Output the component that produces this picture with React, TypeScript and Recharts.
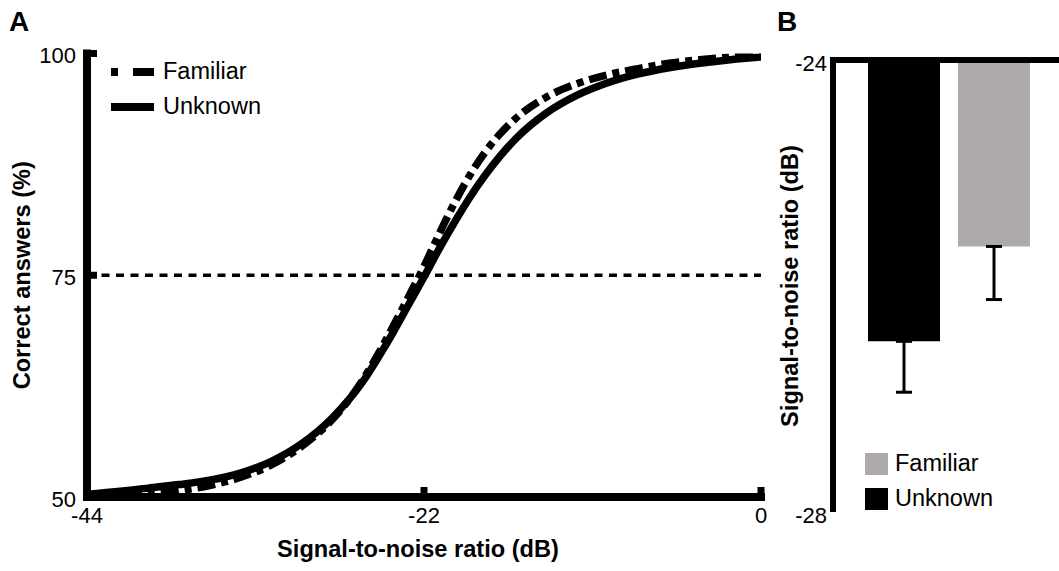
import React from 'react';
import {
  LineChart,
  Line,
  XAxis,
  YAxis,
  ReferenceLine,
  Legend,
  BarChart,
  Bar,
  ErrorBar
} from 'recharts';

// panel A: psychometric curves
const snrLevels = [-44, -40, -38, -36, -34, -32, -30, -28, -26, -25, -24, -23, -22, -21, -20, -19, -18, -17, -16, -14, -12, -10, -8, -6, -4, -2, 0];
const familiarCorrect = [50.0, 50.3, 50.7, 51.3, 52.2, 53.6, 55.7, 58.7, 63.2, 66.1, 69.3, 72.6, 76.0, 79.7, 83.2, 86.3, 88.9, 91.0, 92.7, 95.1, 96.6, 97.6, 98.3, 98.9, 99.3, 99.6, 99.85];
const unknownCorrect = [50.3, 51.0, 51.4, 51.9, 52.7, 54.0, 56.0, 58.9, 63.0, 65.7, 68.6, 71.7, 74.8, 78.0, 81.0, 83.8, 86.3, 88.5, 90.4, 93.3, 95.3, 96.7, 97.7, 98.4, 98.9, 99.3, 99.6];
const snrTicks = [-44, -22, 0];
const correctTicks = [50, 75, 100];
const thresholdLevel = 75;

// panel B: thresholds
const barGroups = ['Threshold'];
const unknownThreshold = [-26.49];
const familiarThreshold = [-25.65];
const unknownSem = [0.45];
const familiarSem = [0.47];
const thresholdTicks = [-28, -24];

const FONT = '"Liberation Sans", Arial, Helvetica, sans-serif';
const GREY = '#aeaaaa';

const curveData = snrLevels.map((snr, i) => ({
  snr,
  familiar: familiarCorrect[i],
  unknown: unknownCorrect[i]
}));

const barData = barGroups.map((group, i) => ({
  group,
  unknown: unknownThreshold[i],
  familiar: familiarThreshold[i],
  unknownErr: [unknownSem[i], 0],
  familiarErr: [familiarSem[i], 0]
}));

const legendOrder = ['Familiar', 'Unknown'];
const legendDash: Record<string, string | undefined> = { Familiar: '7 15 21', Unknown: undefined };

const sortItems = (payload: any[] = []) =>
  [...payload].sort((a, b) => legendOrder.indexOf(a.value) - legendOrder.indexOf(b.value));

function LineLegend({ payload }: any) {
  return (
    <div>
      {sortItems(payload).map((item: any) => (
        <div key={item.value} style={{ display: 'flex', alignItems: 'center', height: 35 }}>
          <svg width={43} height={10} style={{ display: 'block' }}>
            <line x1={0} y1={5} x2={43} y2={5} stroke="#000" strokeWidth={8} strokeDasharray={legendDash[item.value]} />
          </svg>
          <span style={{ marginLeft: 9, fontSize: 23.5, color: '#000', lineHeight: 1 }}>{item.value}</span>
        </div>
      ))}
    </div>
  );
}

function BarLegend({ payload }: any) {
  return (
    <div>
      {sortItems(payload).map((item: any) => (
        <div key={item.value} style={{ display: 'flex', alignItems: 'center', height: 35 }}>
          <svg width={23} height={22} style={{ display: 'block' }}>
            <rect x={0} y={0} width={23} height={22} fill={item.color} />
          </svg>
          <span style={{ marginLeft: 7, fontSize: 23.5, color: '#000', lineHeight: 1 }}>{item.value}</span>
        </div>
      ))}
    </div>
  );
}

function CurvePanel() {
  return (
    <LineChart width={800} height={571} data={curveData} margin={{ top: 53.5, right: 39, bottom: 44, left: 0 }}>
      <XAxis
        type="number"
        dataKey="snr"
        domain={[-44, 0]}
        ticks={snrTicks}
        interval={0}
        allowDataOverflow
        height={30}
        axisLine={{ stroke: '#000', strokeWidth: 8, strokeLinecap: 'square' }}
        tickLine={{ stroke: '#000', strokeWidth: 7 }}
        tickSize={-10}
        tickMargin={20}
        tick={{ fill: '#000', fontSize: 22 }}
        label={{ value: 'Signal-to-noise ratio (dB)', position: 'bottom', offset: 13, dx: -6, fill: '#000', fontSize: 23.6, fontWeight: 700 }}
      />
      <YAxis
        type="number"
        domain={[50, 100]}
        ticks={correctTicks}
        interval={0}
        allowDataOverflow
        width={87}
        axisLine={{ stroke: '#000', strokeWidth: 8, strokeLinecap: 'square' }}
        tickLine={{ stroke: '#000', strokeWidth: 7 }}
        tickSize={-10}
        tickMargin={21}
        tick={{ fill: '#000', fontSize: 22, dy: 2 }}
        label={{ value: 'Correct answers (%)', angle: -90, position: 'insideLeft', offset: 22, fill: '#000', fontSize: 23.6, fontWeight: 700, style: { textAnchor: 'middle' } }}
      />
      <ReferenceLine y={thresholdLevel} stroke="#000" strokeWidth={3.5} strokeDasharray="8 6.5" />
      <Legend
        layout="vertical"
        align="center"
        verticalAlign="middle"
        content={<LineLegend />}
        wrapperStyle={{ left: 111, top: 54, width: 'auto' }}
      />
      <Line
        type="monotone"
        dataKey="familiar"
        name="Familiar"
        stroke="#000"
        strokeWidth={7.5}
        strokeDasharray="18 6 7 6"
        dot={false}
        activeDot={false}
        isAnimationActive={false}
      />
      <Line
        type="monotone"
        dataKey="unknown"
        name="Unknown"
        stroke="#000"
        strokeWidth={7.5}
        dot={false}
        activeDot={false}
        isAnimationActive={false}
      />
    </LineChart>
  );
}

function ThresholdPanel() {
  return (
    <BarChart width={310} height={571} data={barData} margin={{ top: 50, right: 6, bottom: 59, left: 0 }} barSize={72} barGap={18}>
      <XAxis
        dataKey="group"
        orientation="top"
        height={10}
        tick={false}
        tickLine={false}
        axisLine={{ stroke: '#000', strokeWidth: 6, strokeLinecap: 'square' }}
      />
      <YAxis
        type="number"
        domain={[-28, -24]}
        ticks={thresholdTicks}
        interval={0}
        allowDataOverflow
        width={73}
        tickLine={false}
        tickSize={0}
        tickMargin={6}
        axisLine={{ stroke: '#000', strokeWidth: 6 }}
        tick={{ fill: '#000', fontSize: 22, dy: 3.5 }}
        label={{ value: 'Signal-to-noise ratio (dB)', angle: -90, position: 'insideLeft', offset: 30, fill: '#000', fontSize: 23.6, fontWeight: 700, style: { textAnchor: 'middle' } }}
      />
      <Legend
        layout="vertical"
        align="center"
        verticalAlign="middle"
        content={<BarLegend />}
        wrapperStyle={{ left: 105, top: 446.5, width: 'auto' }}
      />
      <Bar dataKey="unknown" name="Unknown" fill="#000" isAnimationActive={false}>
        <ErrorBar dataKey="unknownErr" direction="y" width={8} strokeWidth={3} stroke="#000" />
      </Bar>
      <Bar dataKey="familiar" name="Familiar" fill={GREY} isAnimationActive={false}>
        <ErrorBar dataKey="familiarErr" direction="y" width={8} strokeWidth={3} stroke="#000" />
      </Bar>
    </BarChart>
  );
}

export default function App() {
  return (
    <div style={{ position: 'absolute', left: 0, top: 0, width: 1059, height: 571, overflow: 'hidden', background: '#fff', fontFamily: FONT }}>
      <div style={{ position: 'absolute', left: 0, top: 0 }}>
        <CurvePanel />
      </div>
      <div style={{ position: 'absolute', left: 760, top: 0 }}>
        <ThresholdPanel />
      </div>
      <svg width={1059} height={571} style={{ position: 'absolute', left: 0, top: 0, pointerEvents: 'none' }}>
        <text x={9} y={31} fontSize={28} fontWeight={700} fill="#000">A</text>
        <text x={777} y={31} fontSize={28} fontWeight={700} fill="#000">B</text>
      </svg>
    </div>
  );
}
